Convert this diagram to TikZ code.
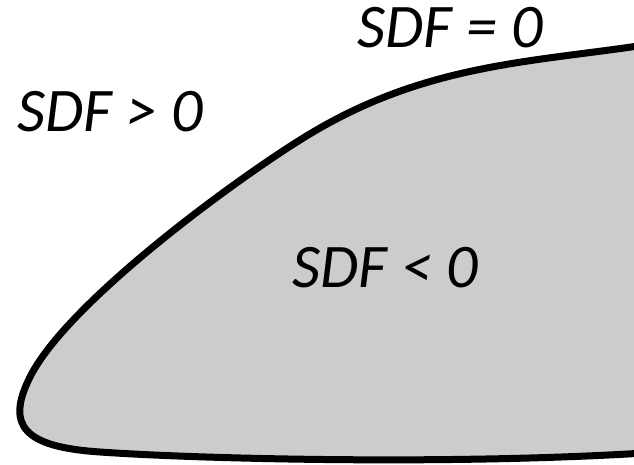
\documentclass[tikz,border=0pt]{standalone}
\usepackage{fontspec}
\setmainfont{Carlito}
\definecolor{blobgray}{RGB}{204,204,204}
\begin{document}
\begin{tikzpicture}[x=1pt,y=-1pt,
  lbl/.style={font=\fontsize{62}{66}\selectfont\itshape, anchor=base, inner sep=0pt},
  blob/.style={fill=blobgray, draw=black, line width=7pt, line join=round}]
\useasboundingbox (0,0) rectangle (634,465);
\clip (0,0) rectangle (634,465);
\draw[blob] (645,45) .. controls (525,63) and (420,64.4) .. (300,140)
  .. controls (225,187) and (66,305) .. (30,377)
  .. controls (5,426.5) and (25,447) .. (100,452)
  .. controls (200,459) and (450,465) .. (645,453)
  -- (700,453) -- (700,45) -- cycle;
\node[lbl] (eq) at (450,48) {SDF = 0};
\node[lbl] (gt) at (110,132) {SDF > 0};
\node[lbl] (lt) at (385,287) {SDF < 0};
\end{tikzpicture}
\end{document}
